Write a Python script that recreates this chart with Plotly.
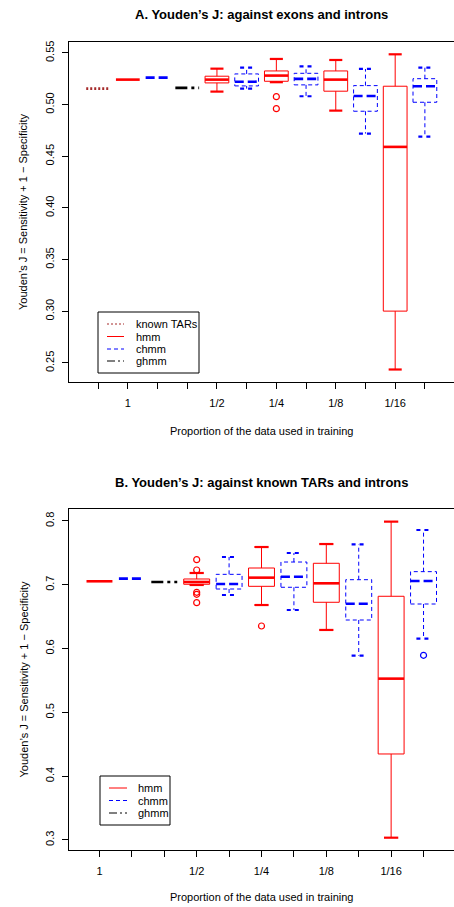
import plotly.graph_objects as go

# ---------------- data ----------------
# Panel A: Youden's J against exons and introns
A_method = ["known TARs", "hmm", "chmm", "ghmm", "hmm", "chmm", "hmm", "chmm", "hmm", "chmm", "hmm", "chmm"]
A_lower = [0.5155, 0.5242, 0.5261, 0.5162, 0.5126, 0.5155, 0.5217, 0.5081, 0.4942, 0.4720, 0.2437, 0.4691]
A_q1 = [0.5155, 0.5242, 0.5261, 0.5162, 0.5210, 0.5181, 0.5226, 0.5191, 0.5130, 0.4936, 0.3002, 0.5023]
A_median = [0.5155, 0.5242, 0.5261, 0.5162, 0.5242, 0.5222, 0.5281, 0.5249, 0.5242, 0.5084, 0.4591, 0.5178]
A_q3 = [0.5155, 0.5242, 0.5261, 0.5162, 0.5275, 0.5297, 0.5326, 0.5303, 0.5326, 0.5184, 0.5178, 0.5251]
A_upper = [0.5155, 0.5242, 0.5261, 0.5162, 0.5348, 0.5358, 0.5442, 0.5371, 0.5432, 0.5345, 0.5487, 0.5358]
A_outlier_group = [7, 7]
A_outlier_value = [0.5077, 0.4961]
A_tick_labels = ["", "1", "", "", "1/2", "", "1/4", "", "1/8", "", "1/16", ""]
A_ytick_values = [0.25, 0.30, 0.35, 0.40, 0.45, 0.50, 0.55]

# Panel B: Youden's J against known TARs and introns
B_method = ["hmm", "chmm", "ghmm", "hmm", "chmm", "hmm", "chmm", "hmm", "chmm", "hmm", "chmm"]
B_lower = [0.7055, 0.7096, 0.7044, 0.6997, 0.6840, 0.6683, 0.6605, 0.6292, 0.5889, 0.3036, 0.6155]
B_q1 = [0.7055, 0.7096, 0.7044, 0.7008, 0.6934, 0.6976, 0.6961, 0.6726, 0.6448, 0.4348, 0.6699]
B_median = [0.7055, 0.7096, 0.7044, 0.7044, 0.7013, 0.7112, 0.7127, 0.7023, 0.6704, 0.5529, 0.7060]
B_q3 = [0.7055, 0.7096, 0.7044, 0.7091, 0.7164, 0.7263, 0.7357, 0.7337, 0.7080, 0.6820, 0.7206]
B_upper = [0.7055, 0.7096, 0.7044, 0.7185, 0.7436, 0.7592, 0.7498, 0.7639, 0.7634, 0.7990, 0.7859]
B_outlier_group = [4, 4, 4, 4, 4, 6, 11]
B_outlier_value = [0.7394, 0.7232, 0.6882, 0.6851, 0.6720, 0.6354, 0.5895]
B_tick_labels = ["1", "", "", "1/2", "", "1/4", "", "1/8", "", "1/16", ""]
B_ytick_values = [0.3, 0.4, 0.5, 0.6, 0.7, 0.8]

A_title = "A. Youden\u2019s J: against exons and introns"
B_title = "B. Youden\u2019s J: against known TARs and introns"
x_title = "Proportion of the data used in training"
y_title = "Youden\u2019s J = Sensitivity + 1 \u2212 Specificity"
A_legend = ["known TARs", "hmm", "chmm", "ghmm"]
B_legend = ["hmm", "chmm", "ghmm"]

# ---------------- styles ----------------
W, H = 454, 907
FONT = "Liberation Sans, Arial, Helvetica, sans-serif"
STYLE = {
    "known TARs": dict(color="#a52a2a", box="2px,2px", med="2px,2px", cap="2px,2px"),
    "hmm": dict(color="#ff0000", box="solid", med="solid", cap="solid"),
    "chmm": dict(color="#0000ff", box="4px,3px", med="9px,4px", cap="4px,4px"),
    "ghmm": dict(color="#000000", box="8px,3px,2px,3px", med="12px,4px,3px,4px", cap="8px,3px,2px,3px"),
}
HALF = 0.4      # half box width
CAP = 0.22      # half staple width


def px(x):
    return x / W


def py(y):
    return 1 - y / H


fig = go.Figure()


def add_panel(xa, ya, methods, lo, q1, med, q3, hi, og, ov):
    for i, m in enumerate(methods):
        c = i + 1
        st = STYLE[m]
        col = st["color"]
        flat = (lo[i] == hi[i])
        if not flat:
            fig.add_trace(go.Scatter(
                x=[c - HALF, c + HALF, c + HALF, c - HALF, c - HALF],
                y=[q1[i], q1[i], q3[i], q3[i], q1[i]],
                mode="lines", line=dict(color=col, width=1, dash=st["box"]),
                xaxis=xa, yaxis=ya, showlegend=False, hoverinfo="skip"))
            fig.add_trace(go.Scatter(
                x=[c, c, None, c, c],
                y=[q3[i], hi[i], None, q1[i], lo[i]],
                mode="lines", line=dict(color=col, width=1, dash=st["box"]),
                xaxis=xa, yaxis=ya, showlegend=False, hoverinfo="skip"))
            fig.add_trace(go.Scatter(
                x=[c - CAP, c + CAP, None, c - CAP, c + CAP],
                y=[hi[i], hi[i], None, lo[i], lo[i]],
                mode="lines", line=dict(color=col, width=2.2, dash=st["cap"]),
                xaxis=xa, yaxis=ya, showlegend=False, hoverinfo="skip"))
        fig.add_trace(go.Scatter(
            x=[c - HALF, c + HALF], y=[med[i], med[i]],
            mode="lines", line=dict(color=col, width=2.6, dash=st["med"]),
            xaxis=xa, yaxis=ya, showlegend=False, hoverinfo="skip"))
    fig.add_trace(go.Scatter(
        x=og, y=ov, mode="markers",
        marker=dict(symbol="circle-open", size=6,
                    color=[STYLE[methods[g - 1]]["color"] for g in og],
                    line=dict(width=1.2)),
        xaxis=xa, yaxis=ya, showlegend=False, hoverinfo="skip"))


add_panel("x", "y", A_method, A_lower, A_q1, A_median, A_q3, A_upper, A_outlier_group, A_outlier_value)
add_panel("x2", "y2", B_method, B_lower, B_q1, B_median, B_q3, B_upper, B_outlier_group, B_outlier_value)

# ---------------- axes ----------------
axis_common = dict(showline=True, mirror=True, linecolor="black", linewidth=1,
                   showgrid=False, zeroline=False, ticks="outside", ticklen=6,
                   tickcolor="black", tickwidth=1,
                   tickfont=dict(family=FONT, size=11, color="black"))

nA, nB = len(A_method), len(B_method)
fig.update_layout(
    width=W, height=H, margin=dict(l=0, r=0, t=0, b=0),
    paper_bgcolor="white", plot_bgcolor="white", showlegend=False,
    xaxis=dict(domain=[px(69), 1], range=[0.5 - 0.04 * nA, nA + 0.5 + 0.04 * nA],
               tickvals=list(range(1, nA + 1)), ticktext=A_tick_labels,
               anchor="y", ticklabelstandoff=5, **axis_common),
    yaxis=dict(domain=[py(382), py(42)], range=[0.2316, 0.5606],
               tickvals=A_ytick_values, ticktext=["%.2f" % v for v in A_ytick_values],
               tickangle=-90, anchor="x", ticklabelstandoff=4, **axis_common),
    xaxis2=dict(domain=[px(69), 1], range=[0.5 - 0.04 * nB, nB + 0.5 + 0.04 * nB],
                tickvals=list(range(1, nB + 1)), ticktext=B_tick_labels,
                anchor="y2", ticklabelstandoff=5, **axis_common),
    yaxis2=dict(domain=[py(850), py(509)], range=[0.2843, 0.8188],
                tickvals=B_ytick_values, ticktext=["%.1f" % v for v in B_ytick_values],
                tickangle=-90, anchor="x2", ticklabelstandoff=4, **axis_common),
)

ann = []
shapes = []
for title, ty in ((A_title, 15), (B_title, 483)):
    ann.append(dict(text="<b>%s</b>" % title, x=px(261.5), y=py(ty), xref="paper", yref="paper",
                    xanchor="center", yanchor="middle", showarrow=False,
                    font=dict(family=FONT, size=13, color="black")))
for ty in (431, 897):
    ann.append(dict(text=x_title, x=px(261.5), y=py(ty), xref="paper", yref="paper",
                    xanchor="center", yanchor="middle", showarrow=False,
                    font=dict(family=FONT, size=11, color="black")))
for ty in (212, 679.5):
    ann.append(dict(text=y_title, x=px(23), y=py(ty), xref="paper", yref="paper",
                    xanchor="center", yanchor="middle", showarrow=False, textangle=-90,
                    font=dict(family=FONT, size=11, color="black")))


def add_legend(entries, x0, y0, x1, y1, rows, lx0, lx1, tx):
    shapes.append(dict(type="rect", xref="paper", yref="paper",
                       x0=px(x0), x1=px(x1), y0=py(y0), y1=py(y1),
                       line=dict(color="black", width=1), fillcolor="white"))
    for name, ry in zip(entries, rows):
        st = STYLE[name]
        shapes.append(dict(type="line", xref="paper", yref="paper",
                           x0=px(lx0), x1=px(lx1), y0=py(ry), y1=py(ry),
                           line=dict(color=st["color"], width=1,
                                     dash=st["box"] if st["box"] != "solid" else "solid")))
        ann.append(dict(text=name, x=px(tx), y=py(ry), xref="paper", yref="paper",
                        xanchor="left", yanchor="middle", showarrow=False,
                        font=dict(family=FONT, size=11, color="black")))


add_legend(A_legend, 98, 312, 199, 373, [324, 336.5, 349, 361], 107, 124, 134)
add_legend(B_legend, 100, 776, 170, 825, [788, 800.5, 813], 109, 127, 136)

fig.update_layout(annotations=ann, shapes=shapes)
fig.write_html("out.html", config={"displayModeBar": False},
               post_script="document.body.style.margin='0';document.body.style.overflow='hidden';")
